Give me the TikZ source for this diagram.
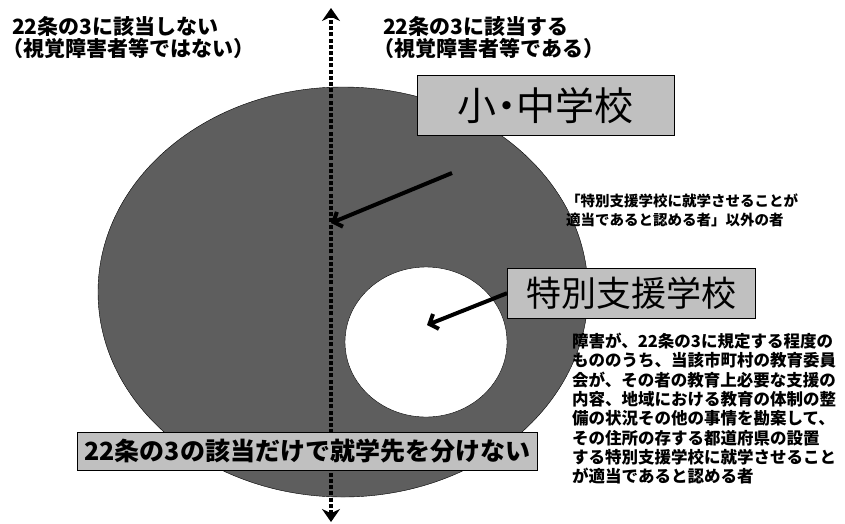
\documentclass[tikz,border=0pt]{standalone}
\usepackage{fontspec}
\setmainfont{Noto Sans CJK JP}
\usetikzlibrary{arrows.meta}
\definecolor{disk}{HTML}{5E5E5E}
\definecolor{tagfill}{HTML}{C0C0C0}
\tikzset{
  split/.style={line width=4.4pt, dash pattern=on 4pt off 2.2pt,
    {Stealth[length=13pt,width=18pt]}-{Stealth[length=13pt,width=18pt]}},
  pointer/.style={line width=4pt, -{Straight Barb[length=7pt,width=16pt]}},
  tag/.style={draw=black, fill=tagfill, inner sep=0pt, anchor=north west},
  head/.style={font=\bfseries\fontsize{21}{22}\selectfont, align=left, anchor=north west, inner sep=0pt},
  note/.style={font=\bfseries\fontsize{15}{19.5}\selectfont, align=left, anchor=north west, inner sep=0pt}
}
\newcommand{\lp}{\kern-0.45em（}
\newcommand{\rp}{）\kern-0.45em}
\begin{document}
\begin{tikzpicture}[x=1pt,y=-1pt]
  \useasboundingbox (0,0) rectangle (845,523);

  % regions
  \fill[disk, draw=black, thin] (343,292) ellipse [x radius=245, y radius=205];
  \fill[white, draw=black, thin] (426,342) ellipse [x radius=81, y radius=75];

  \coordinate (top) at (331,8);
  \coordinate (bottom) at (331,522);
  \draw[split] (bottom) -- (top);

  % headings
  \node[head] (notin) at (12,16) {22条の3に該当しない\\\lp 視覚障害者等ではない\rp};
  \node[head] (isin) at (383,16) {22条の3に該当する\\\lp 視覚障害者等である\rp};

  % boxes
  \node[tag, minimum width=257pt, minimum height=60pt, font=\fontsize{39}{40}\selectfont]
    (school) at (417,75) {小\kern-0.25em・\kern-0.25em中学校};
  \node[tag, minimum width=248pt, minimum height=50pt, font=\fontsize{35}{38}\selectfont]
    (special) at (507,268) {特別支援学校};
  \node[tag, minimum width=460pt, minimum height=38pt, font=\bfseries\fontsize{25}{26}\selectfont]
    (nosplit) at (77,432) {22条の3の該当だけで就学先を分けない};

  % pointers
  \coordinate (from) at (452,173);
  \coordinate (onaxis) at (331,223);
  \coordinate (incircle) at (427,325);
  \draw[pointer] (from) -- (onaxis);
  \draw[pointer] (special.west) -- (incircle);

  % notes
  \node[note, font=\bfseries\fontsize{14.5}{19}\selectfont] (other) at (566,194)
    {「特別支援学校に就学させることが\\適当であると認める者」以外の者};
  \node[note, font=\bfseries\fontsize{16.5}{19.3}\selectfont] (criteria) at (572,333)
    {障害が、22条の3に規定する程度の\\もののうち、当該市町村の教育委員\\会が、その者の教育上必要な支援の\\内容、地域における教育の体制の整\\備の状況その他の事情を勘案して、\\その住所の存する都道府県の設置\\する特別支援学校に就学させること\\が適当であると認める者};
\end{tikzpicture}
\end{document}
